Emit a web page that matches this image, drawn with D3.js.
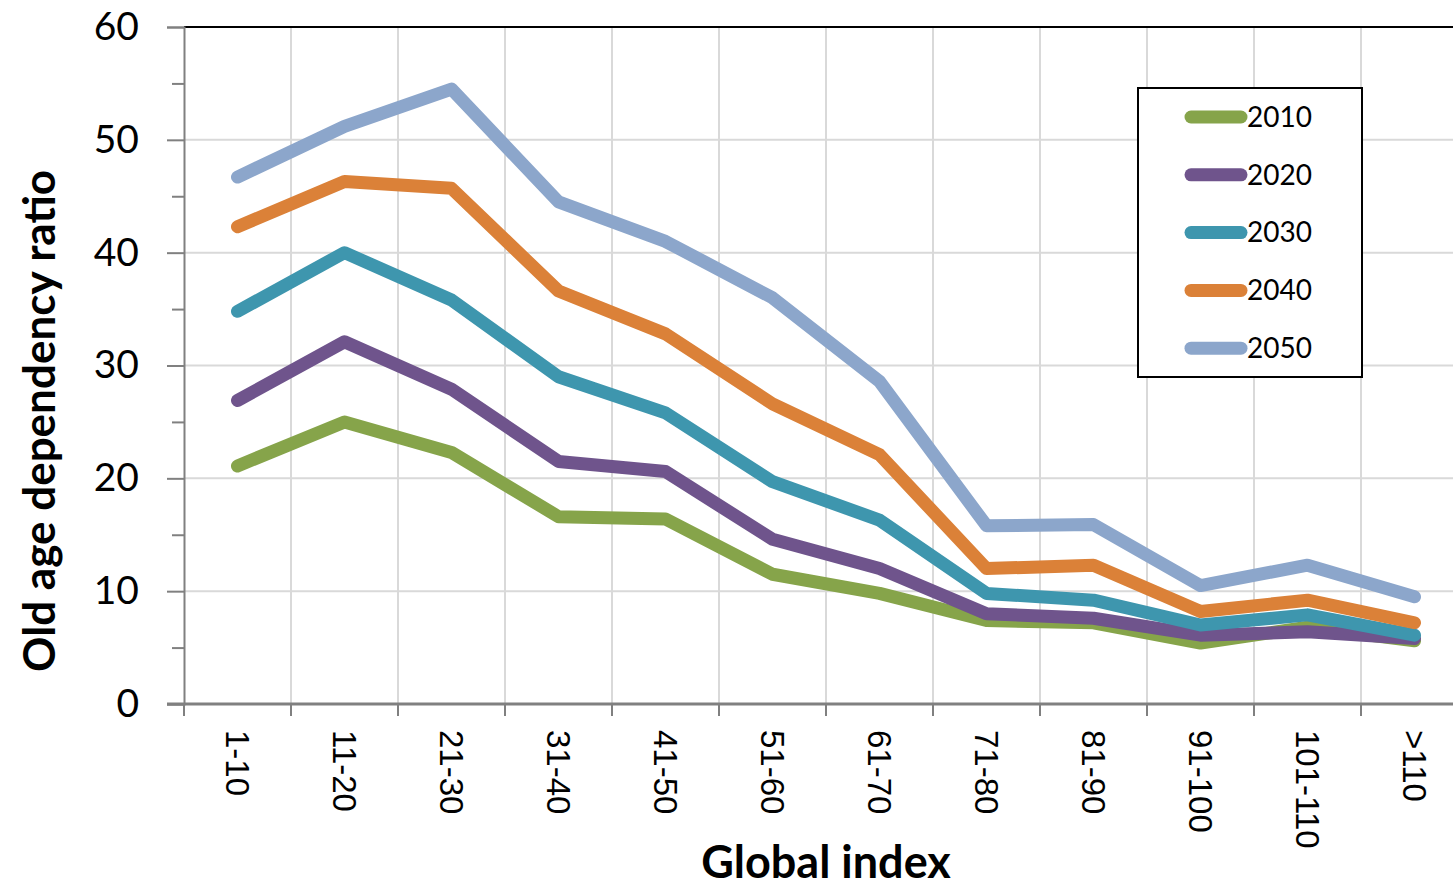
<!DOCTYPE html>
<html>
<head>
<meta charset="utf-8">
<script src="https://cdn.jsdelivr.net/npm/d3@7"></script>
<style>
  html, body { margin: 0; padding: 0; background: #fff; }
  svg { display: block; }
</style>
</head>
<body>
<svg id="chart" width="1453" height="882"></svg>
<script>
// Global index groups (x categories)
const categories = ["1-10", "11-20", "21-30", "31-40", "41-50", "51-60", "61-70", "71-80", "81-90", "91-100", "101-110", ">110"];

// Old age dependency ratio by year
const s2010 = [21.1, 25.0, 22.3, 16.6, 16.4, 11.5, 9.8, 7.4, 7.2, 5.4, 6.8, 5.6];
const s2020 = [26.9, 32.1, 27.9, 21.5, 20.6, 14.6, 12.0, 8.0, 7.6, 6.1, 6.4, 5.8];
const s2030 = [34.8, 40.0, 35.8, 29.0, 25.8, 19.7, 16.3, 9.8, 9.2, 7.0, 7.9, 6.1];
const s2040 = [42.3, 46.3, 45.7, 36.6, 32.8, 26.6, 22.1, 12.0, 12.3, 8.2, 9.2, 7.2];
const s2050 = [46.7, 51.2, 54.5, 44.5, 41.0, 36.0, 28.6, 15.8, 15.9, 10.5, 12.3, 9.5];

const seriesNames = ["2010", "2020", "2030", "2040", "2050"];
const seriesValues = [s2010, s2020, s2030, s2040, s2050];
const seriesColors = ["#86a44a", "#6f548c", "#3e96ae", "#db8138", "#8ca6cb"];

const yMajorTicks = [0, 10, 20, 30, 40, 50, 60];
const yMinorTicks = [5, 15, 25, 35, 45, 55];

const svg = d3.select("#chart");

const plotLeft = 184, plotTop = 27, plotBottom = 704;
const bandW = 107;
const plotRight = plotLeft + bandW * categories.length;

const x = d3.scaleBand().domain(categories).range([plotLeft, plotRight]).padding(0);
const y = d3.scaleLinear().domain([0, 60]).range([plotBottom, plotTop]);

// Gridlines
const grid = svg.append("g");
grid.selectAll("line.h").data(yMajorTicks.filter(d => d > 0 && d < 60)).join("line")
  .attr("class", "h")
  .attr("x1", plotLeft).attr("x2", plotRight)
  .attr("y1", d => y(d)).attr("y2", d => y(d))
  .attr("stroke", "#d9d9d9").attr("stroke-width", 2);
grid.selectAll("line.v").data(categories.slice(1)).join("line")
  .attr("class", "v")
  .attr("x1", d => x(d)).attr("x2", d => x(d))
  .attr("y1", plotTop).attr("y2", plotBottom)
  .attr("stroke", "#d9d9d9").attr("stroke-width", 2);

// Top border
svg.append("line")
  .attr("x1", plotLeft).attr("x2", plotRight)
  .attr("y1", y(60)).attr("y2", y(60))
  .attr("stroke", "#000").attr("stroke-width", 2);

// Y axis
const yAxis = svg.append("g").attr("transform", `translate(${plotLeft},0)`)
  .call(d3.axisLeft(y).tickValues(yMajorTicks).tickSize(17).tickPadding(28).tickFormat(d3.format("d")));
yAxis.select(".domain").attr("stroke", "#808080").attr("stroke-width", 2);
yAxis.selectAll(".tick line").attr("stroke", "#808080").attr("stroke-width", 2);
yAxis.selectAll(".tick text")
  .attr("font-family", "Lato, 'Open Sans', sans-serif")
  .attr("font-size", 39).attr("fill", "#000");

const yMinor = svg.append("g").attr("transform", `translate(${plotLeft},0)`)
  .call(d3.axisLeft(y).tickValues(yMinorTicks).tickSize(12).tickFormat(""));
yMinor.select(".domain").remove();
yMinor.selectAll(".tick line").attr("stroke", "#808080").attr("stroke-width", 2);

// X axis with ticks on band boundaries
const xAxisG = svg.append("g").attr("transform", `translate(0,${plotBottom})`);
xAxisG.append("line")
  .attr("x1", plotLeft - 17).attr("x2", plotRight)
  .attr("y1", 0).attr("y2", 0)
  .attr("stroke", "#808080").attr("stroke-width", 3);
const boundaries = categories.map(c => x(c)).concat([plotRight]);
xAxisG.selectAll("line.tk").data(boundaries).join("line")
  .attr("class", "tk")
  .attr("x1", d => d).attr("x2", d => d)
  .attr("y1", 0).attr("y2", 12)
  .attr("stroke", "#808080").attr("stroke-width", 2);
xAxisG.selectAll("text.lbl").data(categories).join("text")
  .attr("class", "lbl")
  .attr("transform", d => `translate(${x(d) + x.bandwidth() / 2},26) rotate(90)`)
  .attr("text-anchor", "start")
  .attr("dy", "0.35em")
  .attr("font-family", "'Liberation Sans', Arial, sans-serif")
  .attr("font-size", 33)
  .attr("fill", "#000")
  .text(d => d);

// Lines
const line = d3.line()
  .x((d, i) => x(categories[i]) + x.bandwidth() / 2)
  .y(d => y(d));

svg.append("g").selectAll("path").data(seriesValues).join("path")
  .attr("d", d => line(d))
  .attr("fill", "none")
  .attr("stroke", (d, i) => seriesColors[i])
  .attr("stroke-width", 13)
  .attr("stroke-linejoin", "round")
  .attr("stroke-linecap", "round");

// Axis titles
svg.append("text")
  .attr("transform", "translate(55,421) rotate(-90)")
  .attr("text-anchor", "middle")
  .attr("font-family", "Lato, 'Open Sans', sans-serif")
  .attr("font-weight", "bold")
  .attr("font-size", 44)
  .attr("fill", "#000")
  .text("Old age dependency ratio");

svg.append("text")
  .attr("x", 826).attr("y", 878)
  .attr("text-anchor", "middle")
  .attr("font-family", "Lato, 'Open Sans', sans-serif")
  .attr("font-weight", "bold")
  .attr("font-size", 45)
  .attr("fill", "#000")
  .text("Global index");

// Legend
const legend = svg.append("g");
legend.append("rect")
  .attr("x", 1138).attr("y", 88).attr("width", 224).attr("height", 289)
  .attr("fill", "#fff").attr("stroke", "#000").attr("stroke-width", 2);
const rows = legend.selectAll("g.row").data(seriesNames).join("g")
  .attr("class", "row")
  .attr("transform", (d, i) => `translate(0,${117 + i * 57.8})`);
rows.append("line")
  .attr("x1", 1191).attr("x2", 1241).attr("y1", 0).attr("y2", 0)
  .attr("stroke", (d, i) => seriesColors[i])
  .attr("stroke-width", 13).attr("stroke-linecap", "round");
rows.append("text")
  .attr("x", 1247).attr("y", 0).attr("dy", "0.35em")
  .attr("font-family", "Lato, 'Open Sans', sans-serif")
  .attr("font-size", 28)
  .attr("fill", "#000")
  .text(d => d);
</script>
</body>
</html>
